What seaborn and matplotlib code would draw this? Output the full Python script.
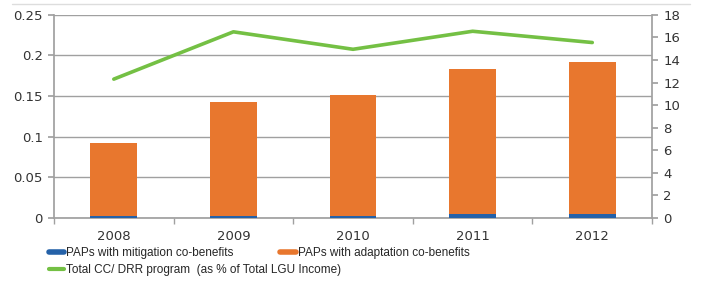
import matplotlib
matplotlib.use("Agg")
import matplotlib.pyplot as plt
from matplotlib.lines import Line2D
import seaborn as sns
import pandas as pd
import numpy as np

years = ["2008", "2009", "2010", "2011", "2012"]
mitigation = [0.0015, 0.0015, 0.0015, 0.005, 0.005]
total_bar = [0.0925, 0.143, 0.151, 0.183, 0.192]
cc_drr_pct = [12.3, 16.5, 14.95, 16.55, 15.55]

c_orange = "#E8772E"
c_blue = "#2461A8"
c_green = "#74C044"

sns.set_theme(style="white")
plt.rcParams['font.family'] = ['DejaVu Sans']

fig = plt.figure(figsize=(7.15, 2.87), dpi=100)
ax = fig.add_axes([0.0755, 0.2415, 0.8365, 0.7065])

df = pd.DataFrame({"year": years, "total": total_bar, "mit": mitigation})
sns.barplot(data=df, x="year", y="total", color=c_orange, width=0.39,
            saturation=1, ax=ax, zorder=2, linewidth=0)
sns.barplot(data=df, x="year", y="mit", color=c_blue, width=0.39,
            saturation=1, ax=ax, zorder=3, linewidth=0)

ax.set_ylim(0, 0.25)
ax.set_xlim(-0.5, 4.5)
ax.set_yticks([0, 0.05, 0.1, 0.15, 0.2, 0.25])
ax.set_yticklabels(["0", "0.05", "0.1", "0.15", "0.2", "0.25"])
ax.set_xlabel("")
ax.set_ylabel("")
ax.yaxis.grid(True, color="#A0A0A0", linewidth=1.0, zorder=0)
ax.set_axisbelow(True)
for s in ["top", "right"]:
    ax.spines[s].set_visible(False)
ax.spines["left"].set_color("#A0A0A0")
ax.spines["bottom"].set_color("#A0A0A0")
ax.tick_params(axis="y", left=True, length=4, color="#A0A0A0", labelsize=9.5,
               labelcolor="#333333", pad=4)
ax.set_xticks(range(5))
ax.set_xticklabels(years)
ax.tick_params(axis="x", bottom=False, labelsize=9.5, labelcolor="#333333", pad=3)
ax.set_xticks(np.arange(-0.5, 5, 1), minor=True)
ax.tick_params(axis="x", which="minor", bottom=True, length=4, color="#A0A0A0")

ax2 = ax.twinx()
sns.lineplot(x=np.arange(5), y=cc_drr_pct, color=c_green, linewidth=2.6, ax=ax2)
ax2.set_ylim(0, 18)
ax2.set_yticks(range(0, 19, 2))
for s in ["top", "left", "bottom"]:
    ax2.spines[s].set_visible(False)
ax2.spines["right"].set_color("#A0A0A0")
ax2.tick_params(axis="y", right=True, length=4, color="#A0A0A0", labelsize=9.5,
                labelcolor="#333333", pad=4)
ax2.grid(False)

fig.add_artist(Line2D([12 / 715, 690 / 715], [1 - 4 / 287, 1 - 4 / 287],
                      color="#DDDDDD", linewidth=1))

legprop = {"family": ["Liberation Sans Narrow", "Liberation Sans"], "size": 8.5}
h_blue = Line2D([], [], color=c_blue, linewidth=4)
h_green = Line2D([], [], color=c_green, linewidth=3)
h_orange = Line2D([], [], color=c_orange, linewidth=4)
lab_mit = "PAPs with mitigation co-benefits"
lab_ad = "PAPs with adaptation co-benefits"
lab_tot = "Total CC/ DRR program  (as % of Total LGU Income)"

leg1 = fig.legend([h_blue, h_green], [lab_mit, lab_tot], loc="upper left",
                  bbox_to_anchor=(0.068, 0.14), ncol=1, frameon=False,
                  handlelength=1.3, handletextpad=0.2, labelspacing=0.45,
                  borderpad=0, borderaxespad=0, prop=legprop)
leg2 = fig.legend([h_orange], [lab_ad], loc="upper left",
                  bbox_to_anchor=(0.392, 0.14), ncol=1, frameon=False,
                  handlelength=1.3, handletextpad=0.2,
                  borderpad=0, borderaxespad=0, prop=legprop)

fig.savefig("out.png", dpi=100)
